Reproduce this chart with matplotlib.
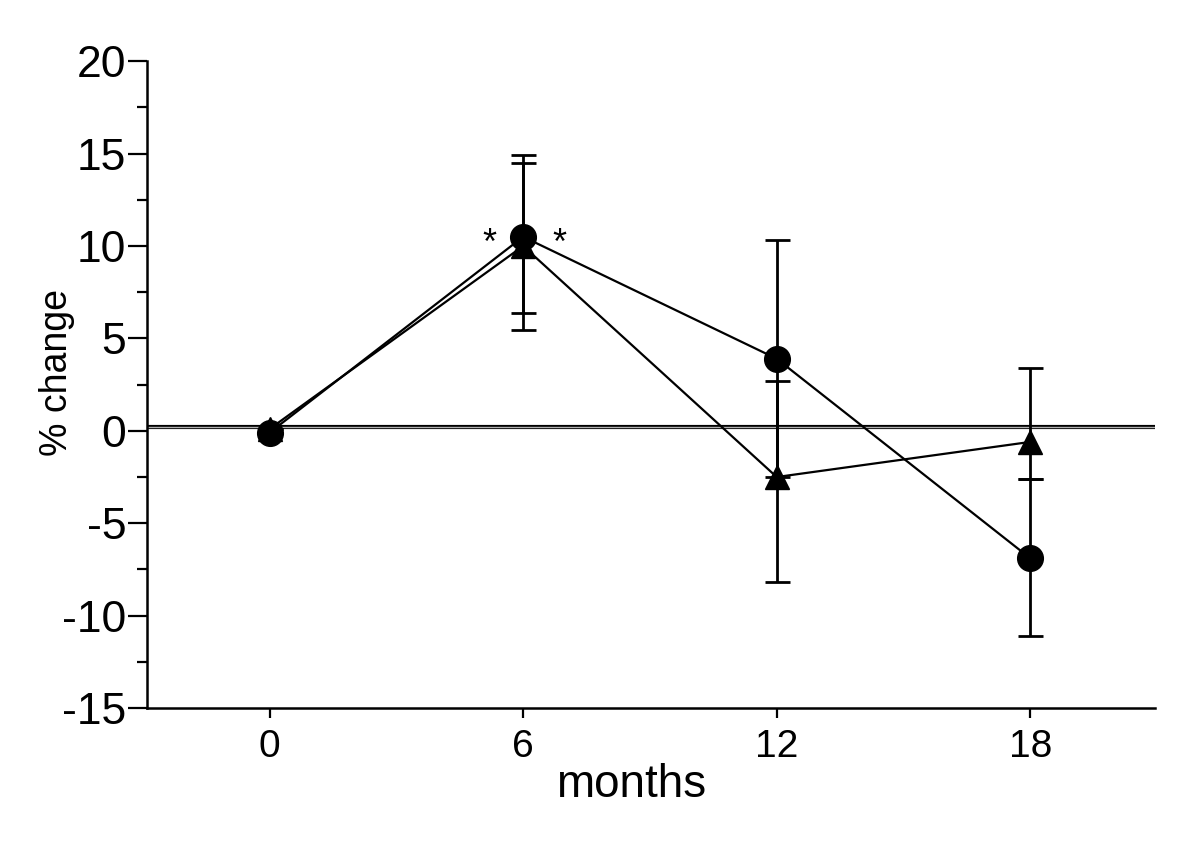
import matplotlib
matplotlib.use("Agg")
import matplotlib.pyplot as plt
from matplotlib.ticker import MultipleLocator

plt.rcParams['font.family'] = ['Liberation Sans', 'DejaVu Sans']
plt.rcParams['axes.unicode_minus'] = False

months = [0, 6, 12, 18]
xtick_labels = ["0", "6", "12", "18"]

circle_vals = [-0.1, 10.5, 3.9, -6.9]
circle_err_lo = [0.0, 4.1, 6.4, 4.2]
circle_err_hi = [0.0, 4.4, 6.4, 4.3]

tri_vals = [0.1, 10.0, -2.5, -0.6]
tri_err_lo = [0.0, 4.55, 5.7, 2.0]
tri_err_hi = [0.0, 4.5, 5.2, 4.0]

star_x = [5.2, 6.85]
star_y = [10.5, 10.5]

fig = plt.figure(figsize=(12, 8.5), dpi=100)
ax = fig.add_axes([0.1225, 0.167, 0.84, 0.761])

ax.axhline(0.2, color='black', lw=3.0, zorder=1)
ax.axhline(0.2, color='#b0b0b0', lw=1.0, zorder=1.1)

ax.errorbar(months, tri_vals, yerr=[tri_err_lo, tri_err_hi], fmt='none',
            ecolor='black', elinewidth=2, capsize=9, capthick=2, zorder=2)
ax.errorbar(months, circle_vals, yerr=[circle_err_lo, circle_err_hi], fmt='none',
            ecolor='black', elinewidth=2, capsize=9, capthick=2, zorder=2)

ax.plot(months, tri_vals, color='black', lw=1.6, marker='^', markersize=17,
        markerfacecolor='black', markeredgecolor='black', zorder=3)
ax.plot(months, circle_vals, color='black', lw=1.6, marker='o', markersize=18.5,
        markerfacecolor='black', markeredgecolor='black', zorder=4)

for sx, sy in zip(star_x, star_y):
    ax.text(sx, sy - 0.4, '*', fontsize=26, ha='center', va='center')

ax.set_xlim(-2.9, 20.95)
ax.set_ylim(-15, 20)
ax.set_xticks(months)
ax.set_xticklabels(xtick_labels)
ax.yaxis.set_major_locator(MultipleLocator(5))
ax.yaxis.set_minor_locator(MultipleLocator(2.5))

ax.spines['top'].set_visible(False)
ax.spines['right'].set_visible(False)
ax.spines['left'].set_linewidth(1.8)
ax.spines['bottom'].set_linewidth(1.8)

ax.tick_params(axis='y', which='major', direction='out', length=14, width=1.6,
               labelsize=32, pad=1)
ax.tick_params(axis='y', which='minor', direction='out', length=7, width=1.6)
ax.tick_params(axis='x', which='major', direction='out', length=7, width=1.6,
               labelsize=28, pad=8)

ax.set_xlabel('months', fontsize=33)
ax.set_ylabel('% change', fontsize=27)
ax.xaxis.label.set_va('center')
ax.yaxis.label.set_va('center')
ax.xaxis.set_label_coords(0.48, -0.119)
ax.yaxis.set_label_coords(-0.089, 0.519)

fig.savefig('out.png', dpi=100)
